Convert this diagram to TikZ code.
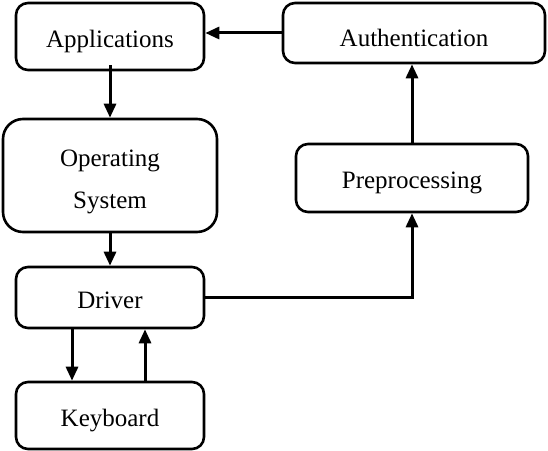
\documentclass[tikz,border=0pt]{standalone}
\usepackage{fontspec}
\setmainfont{Liberation Serif}
\usepackage{tikz}
\usetikzlibrary{arrows.meta,calc}

\begin{document}
\begin{tikzpicture}[x=1pt,y=1pt,
  blk/.style={draw,line width=2.6pt,rounded corners=12pt,align=center,inner sep=0pt,
    text height=24pt,text depth=2pt,font=\fontsize{25}{42}\selectfont},
  flow/.style={line width=3pt,-{Triangle[length=14pt,width=12pt]}}]
\useasboundingbox (0,0) rectangle (548,450);
%blocks
\node[blk,minimum width=188pt,minimum height=67pt] (app) at (110,413.5) {Applications};
\node[blk,minimum width=262pt,minimum height=60pt,text height=30pt] (auth) at (414,417) {Authentication};
\node[blk,minimum width=214pt,minimum height=113pt,rounded corners=20pt,text height=,text depth=] (os) at (110,274.5) {\rule{0pt}{30pt}Operating\\System};
\node[blk,minimum width=232pt,minimum height=68pt] (pre) at (412,272) {Preprocessing};
\node[blk,minimum width=188pt,minimum height=61pt] (drv) at (110,152.5) {Driver};
\node[blk,minimum width=188pt,minimum height=67pt] (kbd) at (110,34.5) {Keyboard};
%arrows
\draw[flow] ($(app.south)+(0,6)$) -- (os.north);
\draw[flow] (os.south) -- (drv.north);
\draw[flow] ($(drv.south)+(-38,0)$) -- ($(kbd.north)+(-38,0)$);
\draw[flow] ($(kbd.north)+(35,0)$) -- ($(drv.south)+(35,0)$);
\draw[flow] (drv.east) -| (pre.south);
\draw[flow] (pre.north) -- (pre.north |- auth.south);
\draw[flow] (auth.west) -- (auth.west -| app.east);
\end{tikzpicture}
\end{document}
